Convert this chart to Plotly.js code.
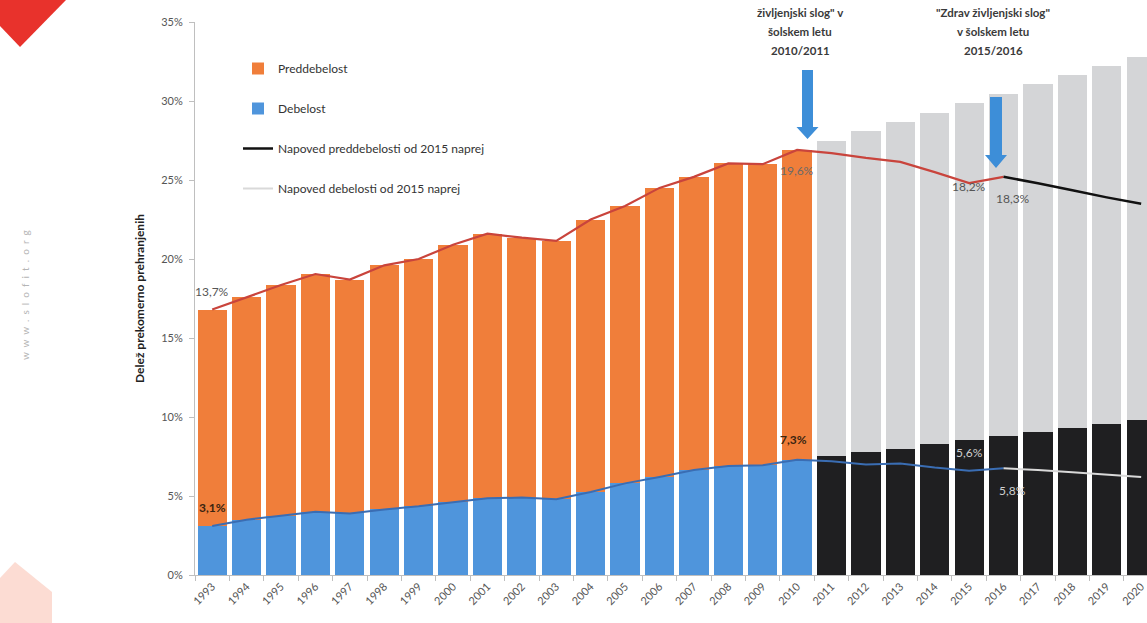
<!DOCTYPE html>
<html>
<head>
<meta charset="utf-8">
<script src="https://cdn.plot.ly/plotly-3.0.1.min.js"></script>
<style>html,body{margin:0;padding:0;background:#fff;}#chart{width:1147px;height:623px;}</style>
</head>
<body>
<div id="chart"></div>
<script>
// ---- data ----
const years = ['1993','1994','1995','1996','1997','1998','1999','2000','2001','2002','2003','2004','2005','2006','2007','2008','2009','2010','2011','2012','2013','2014','2015','2016','2017','2018','2019','2020'];
const pastYears = years.slice(0, 18);
const futureYears = years.slice(18);
const debelost = [3.1,3.5,3.75,4.0,3.9,4.15,4.35,4.6,4.85,4.9,4.8,5.25,5.8,6.2,6.65,6.9,6.95,7.3];
const preddebelost = [13.7,14.1,14.6,15.05,14.8,15.45,15.65,16.3,16.75,16.45,16.35,17.25,17.55,18.3,18.55,19.15,19.05,19.6];
const napovedSkupaj = [27.5,28.1,28.65,29.25,29.85,30.45,31.05,31.65,32.2,32.8];
const napovedDebelost = [7.55,7.8,8.0,8.3,8.55,8.8,9.05,9.3,9.55,9.8];
const lineYearsA = years.slice(0, 24);            // 1993-2016
const lineYearsB = years.slice(23);               // 2016-2020
const trendPred = [16.8,17.6,18.35,19.05,18.7,19.6,20.0,20.9,21.6,21.35,21.15,22.5,23.35,24.5,25.2,26.05,26.0,26.9,26.7,26.4,26.15,25.5,24.8,25.2];
const trendDeb = [3.1,3.5,3.75,4.0,3.9,4.15,4.35,4.6,4.85,4.9,4.8,5.25,5.8,6.2,6.65,6.9,6.95,7.3,7.2,7.0,7.05,6.8,6.6,6.75];
const napovedPredLine = [25.2,24.8,24.35,23.9,23.5];
const napovedDebLine = [6.75,6.65,6.5,6.37,6.2];
const napovedLabels = ['18,2%','18,3%','5,6%','5,8%'];
const yTicks = [0,5,10,15,20,25,30,35];

const FONT = 'Lato, "Open Sans", sans-serif';
const fmt = v => v.toFixed(1).replace('.', ',') + '%';
const idx = y => years.indexOf(y);

// pixel helpers for decorations
const px = x => (x - 195) / 952;
const py = y => (575 - y) / 553;

const traces = [
  {type:'bar', x:pastYears, y:debelost, name:'Debelost', marker:{color:'#4f95dc'}, legendgroup:'g2', legendrank:2},
  {type:'bar', x:pastYears, y:preddebelost, name:'Preddebelost', marker:{color:'#f07e3a'}, legendgroup:'g1', legendrank:1},
  {type:'bar', x:futureYears, y:napovedDebelost, marker:{color:'#1f1f21'}, showlegend:false},
  {type:'bar', x:futureYears, y:napovedSkupaj.map((v,i)=>v - napovedDebelost[i]), marker:{color:'#d4d5d7'}, showlegend:false},
  {type:'scatter', mode:'lines', x:lineYearsA, y:trendPred, line:{color:'#c9443c', width:2.2}, showlegend:false},
  {type:'scatter', mode:'lines', x:lineYearsA, y:trendDeb, line:{color:'#3a6db3', width:2}, showlegend:false},
  {type:'scatter', mode:'lines', x:lineYearsB, y:napovedPredLine, name:'Napoved preddebelosti od 2015 naprej', line:{color:'#111111', width:2.5}, legendgroup:'g3', legendrank:3},
  {type:'scatter', mode:'lines', x:lineYearsB, y:napovedDebLine, name:'Napoved debelosti od 2015 naprej', line:{color:'#d9d9d9', width:2}, legendgroup:'g4', legendrank:4}
];

function lbl(x, y, text, color, xshift, bold) {
  return {xref:'x', yref:'y', x:x, y:y, text:text, showarrow:false, xshift:xshift||0,
    font:{family:FONT, size:12, color:color, weight: bold ? 'bold' : 'normal'}};
}
function topText(x, y, text) {
  return {xref:'paper', yref:'paper', x:px(x), y:py(y), text:text, showarrow:false,
    xanchor:'center', yanchor:'middle', font:{family:FONT, size:11.5, color:'#3a3a3a', weight:'bold'}};
}
function arrowPath(cx, top, headTop, tip, shaftHalf, headHalf) {
  return 'M' + px(cx - shaftHalf) + ',' + py(top) +
    ' L' + px(cx + shaftHalf) + ',' + py(top) +
    ' L' + px(cx + shaftHalf) + ',' + py(headTop) +
    ' L' + px(cx + headHalf) + ',' + py(headTop) +
    ' L' + px(cx) + ',' + py(tip) +
    ' L' + px(cx - headHalf) + ',' + py(headTop) +
    ' L' + px(cx - shaftHalf) + ',' + py(headTop) + ' Z';
}

const annotations = [
  lbl(idx('1993'), 17.97, fmt(preddebelost[0]), '#555555'),
  lbl(idx('1993'), 4.3, fmt(debelost[0]), '#3a2410', 0, true),
  lbl(idx('2010'), 25.57, fmt(preddebelost[17]), '#6a6a6a'),
  lbl(idx('2010'), 8.55, fmt(debelost[17]), '#3a2410', -4, true),
  lbl(idx('2015'), 24.56, napovedLabels[0], '#555555'),
  lbl(idx('2016'), 23.86, napovedLabels[1], '#555555', 9),
  lbl(idx('2015'), 7.78, napovedLabels[2], '#cfcfcf'),
  lbl(idx('2016'), 5.38, napovedLabels[3], '#cfcfcf', 9),
  topText(800, 12, 'življenjski slog" v'),
  topText(800, 32, 'šolskem letu'),
  topText(800, 51, '2010/2011'),
  topText(993, 12, '"Zdrav življenjski slog"'),
  topText(993, 32, 'v šolskem letu'),
  topText(993, 51, '2015/2016'),
  {xref:'paper', yref:'paper', x:px(17), y:py(295), text:'w  w  w  .  s  l  o  f  i  t  .  o  r  g', textangle:-90,
    showarrow:false, font:{family:FONT, size:10, color:'#b5b5b5'}}
];

const shapes = [
  {type:'path', xref:'paper', yref:'paper', path:arrowPath(807.5, 70, 127, 139, 5.5, 11), fillcolor:'#3d8ed8', line:{width:0}},
  {type:'path', xref:'paper', yref:'paper', path:arrowPath(996, 97, 155, 168, 6, 11), fillcolor:'#3d8ed8', line:{width:0}},
  {type:'path', xref:'paper', yref:'paper', path:'M'+px(0)+','+py(0)+' L'+px(66)+','+py(0)+' L'+px(20)+','+py(47)+' L'+px(0)+','+py(26)+' Z', fillcolor:'#e8322c', line:{width:0}, layer:'below'},
  {type:'path', xref:'paper', yref:'paper', path:'M'+px(0)+','+py(578)+' L'+px(15)+','+py(562)+' L'+px(52)+','+py(592)+' L'+px(52)+','+py(623)+' L'+px(0)+','+py(623)+' Z', fillcolor:'#fcdcd3', line:{width:0}, layer:'below'}
];

const layout = {
  width:1147, height:623,
  margin:{l:195, r:0, t:22, b:48},
  paper_bgcolor:'#ffffff', plot_bgcolor:'#ffffff',
  barmode:'stack', bargap:0.15,
  font:{family:FONT, size:11, color:'#555555'},
  showlegend:true,
  legend:{x:px(238), y:py(54), xanchor:'left', yanchor:'top', traceorder:'grouped', tracegroupgap:21,
    bgcolor:'rgba(0,0,0,0)', font:{family:FONT, size:12, color:'#333333'}, itemwidth:30},
  xaxis:{type:'category', categoryorder:'array', categoryarray:years, range:[-0.5, 27.17],
    tickangle:-45, tickson:'boundaries', ticks:'outside', ticklen:5, tickcolor:'#bfbfbf',
    showline:true, linecolor:'#bfbfbf', linewidth:1, showgrid:false, zeroline:false,
    tickfont:{family:FONT, size:11, color:'#555555'}, automargin:false, fixedrange:true},
  yaxis:{range:[0,35], tickvals:yTicks, ticktext:yTicks.map(v=>v+'%'), ticks:'outside', ticklen:5,
    tickcolor:'#bfbfbf', showline:true, linecolor:'#bfbfbf', linewidth:1, showgrid:false, zeroline:false,
    ticklabelstandoff:4, tickfont:{family:FONT, size:11, color:'#555555'}, automargin:false,
    title:{text:'Delež prekomerno prehranjenih', standoff:14, font:{family:FONT, size:12, color:'#222222', weight:'bold'}}},
  annotations:annotations,
  shapes:shapes
};

Plotly.newPlot('chart', traces, layout, {displayModeBar:false, staticPlot:true});
</script>
</body>
</html>
